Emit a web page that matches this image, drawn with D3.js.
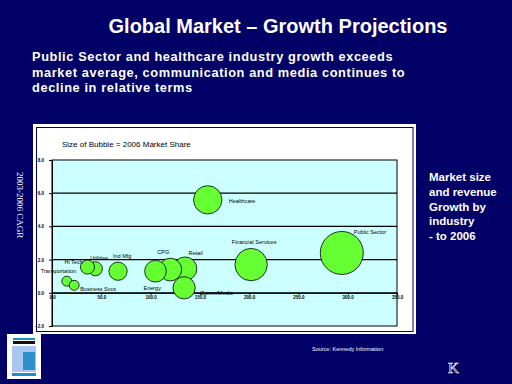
<!DOCTYPE html>
<html>
<head>
<meta charset="utf-8">
<script src="https://cdn.jsdelivr.net/npm/d3@7"></script>
<style>
  body { margin: 0; background: #000066; }
  svg { display: block; font-family: Arial, "Liberation Sans", sans-serif; }
</style>
</head>
<body>
<svg id="chart"></svg>
<script>
// industries, x = market size, y = 2003-2006 CAGR, bubble = 2006 market share
const industries = ["Healthcare", "Public Sector", "Financial Services", "Retail", "CPG", "Energy",
                    "Comm/Media", "Ind Mfg", "Utilities", "Hi Tech", "Transportation", "Business Svcs"];
const marketSize = [158, 294, 202, 135, 120, 105, 134, 67, 44, 36, 15, 22.5];
const growth     = [5.6, 2.4, 1.7, 1.45, 1.4, 1.3, 0.3, 1.3, 1.45, 1.55, 0.7, 0.45];
const share      = [6.5, 15.0, 8.5, 4.5, 4.2, 3.8, 4.0, 2.7, 1.6, 1.6, 0.8, 0.8];
const xTicks = [0, 50, 100, 150, 200, 250, 300, 350];
const yTicks = [-2, 0, 2, 4, 6, 8];

const width = 512, height = 384;
const svg = d3.select("#chart").attr("width", width).attr("height", height);

svg.append("rect").attr("width", width).attr("height", height).attr("fill", "#000066");

// titles
svg.append("text").attr("x", 278).attr("y", 33).attr("text-anchor", "middle")
   .attr("fill", "#fff").attr("font-weight", "bold").attr("font-size", 20)
   .text("Global Market \u2013 Growth Projections");

const sub = ["Public Sector and healthcare industry growth exceeds",
             "market average, communication and media continues to",
             "decline in relative terms"];
svg.append("g").selectAll("text").data(sub).enter().append("text")
   .attr("x", 32).attr("y", (d, i) => 61 + i * 15.5)
   .attr("fill", "#fff").attr("font-weight", "bold").attr("font-size", 12.8)
   .attr("letter-spacing", 0.6)
   .text(d => d);

const side = ["Market size", "and revenue", "Growth by", "industry", "- to 2006"];
svg.append("g").selectAll("text").data(side).enter().append("text")
   .attr("x", 429).attr("y", (d, i) => 181 + i * 14.8)
   .attr("fill", "#fff").attr("font-weight", "bold").attr("font-size", 11.5)
   .text(d => d);

svg.append("text").attr("transform", "translate(17,172) rotate(90)")
   .attr("fill", "#fff").attr("font-size", 9).attr("font-family", "Liberation Serif, serif")
   .text("2003-2006 CAGR");

// panel
svg.append("rect").attr("x", 33).attr("y", 124).attr("width", 383).attr("height", 210).attr("fill", "#fff");
svg.append("rect").attr("x", 36.5).attr("y", 127.5).attr("width", 376.5).attr("height", 204)
   .attr("fill", "none").attr("stroke", "#000066").attr("stroke-width", 1);

svg.append("text").attr("x", 62).attr("y", 147).attr("font-size", 8).attr("fill", "#000")
   .text("Size of Bubble = 2006 Market Share");

const x = d3.scaleLinear().domain([0, 350]).range([52, 397]);
const y = d3.scaleLinear().domain([-2, 8]).range([326, 160]);
const r = d3.scaleSqrt().domain([0, d3.max(share)]).range([0, 21.5]);

svg.append("rect").attr("x", 52).attr("y", 160).attr("width", 345).attr("height", 166)
   .attr("fill", "#ccffff").attr("stroke", "#000").attr("stroke-width", 1);

// grid
svg.append("g").selectAll("line").data(yTicks.slice(1, -1)).enter().append("line")
   .attr("x1", 52).attr("x2", 397).attr("y1", d => y(d)).attr("y2", d => y(d))
   .attr("stroke", "#000").attr("stroke-width", 1.2);

const yAxis = svg.append("g").attr("transform", "translate(52,0)")
   .call(d3.axisLeft(y).tickValues(yTicks).tickSize(3).tickFormat(d3.format(".1f")));
const xAxis = svg.append("g").attr("transform", `translate(0,${y(0)})`)
   .call(d3.axisBottom(x).tickValues(xTicks).tickSize(2).tickPadding(1).tickFormat(d3.format(".1f")));
[xAxis, yAxis].forEach(a => {
  a.select(".domain").attr("stroke", "#000");
  a.selectAll("text").attr("font-size", 4.5).attr("font-weight", "bold").attr("fill", "#000")
   .attr("font-family", "Arial, sans-serif");
});
yAxis.selectAll("text").attr("dx", -2);

// bubbles
const bubbles = industries.map((name, i) => ({name, size: marketSize[i], cagr: growth[i], share: share[i]}))
  .sort((a, b) => b.share - a.share);
svg.append("g").selectAll("circle").data(bubbles).enter().append("circle")
   .attr("cx", d => x(d.size)).attr("cy", d => y(d.cagr)).attr("r", d => r(d.share))
   .attr("fill", "#66ff33").attr("stroke", "#000").attr("stroke-width", 0.8);

// label placement relative to bubble centre
const labelAt = {
  "Healthcare": [21, 3.5, "start"], "Public Sector": [12, -19, "start"],
  "Financial Services": [3, -21, "middle"], "Retail": [3.5, -13.5, "start"],
  "CPG": [-13, -16, "start"], "Energy": [-12, 18.5, "start"],
  "Comm/Media": [16, 7.5, "start"], "Ind Mfg": [-5, -13.5, "start"],
  "Utilities": [-5, -9, "start"], "Hi Tech": [-23, -3, "start"],
  "Transportation": [-26, -8, "start"], "Business Svcs": [6, 5.5, "start"]
};
svg.append("g").selectAll("text").data(bubbles).enter().append("text")
   .attr("x", d => x(d.size) + labelAt[d.name][0]).attr("y", d => y(d.cagr) + labelAt[d.name][1])
   .attr("text-anchor", d => labelAt[d.name][2])
   .attr("font-size", 5.5).attr("fill", "#000").text(d => d.name);

// footer
svg.append("text").attr("x", 312).attr("y", 351).attr("font-size", 5.5).attr("fill", "#fff")
   .text("Source: Kennedy Information");
svg.append("text").attr("x", 448).attr("y", 373).attr("font-size", 15).attr("fill", "none")
   .attr("stroke", "#fff").attr("stroke-width", 0.6).attr("font-family", "Liberation Serif, serif")
   .text("K");

// logo
const logo = svg.append("g").attr("transform", "translate(7,334)");
logo.append("rect").attr("width", 34).attr("height", 45).attr("fill", "#fff");
logo.append("rect").attr("x", 6).attr("y", 4).attr("width", 22).attr("height", 2).attr("fill", "#1a8fd0");
logo.append("rect").attr("x", 6).attr("y", 7).attr("width", 22).attr("height", 3).attr("fill", "#111");
logo.append("rect").attr("x", 5).attr("y", 12).attr("width", 24).attr("height", 26).attr("fill", "#a9c7ee");
logo.append("rect").attr("x", 16).attr("y", 18).attr("width", 12).attr("height", 18).attr("fill", "#2f8fc8");
logo.append("rect").attr("x", 5).attr("y", 39).attr("width", 24).attr("height", 3).attr("fill", "#1a8fd0");
</script>
</body>
</html>
